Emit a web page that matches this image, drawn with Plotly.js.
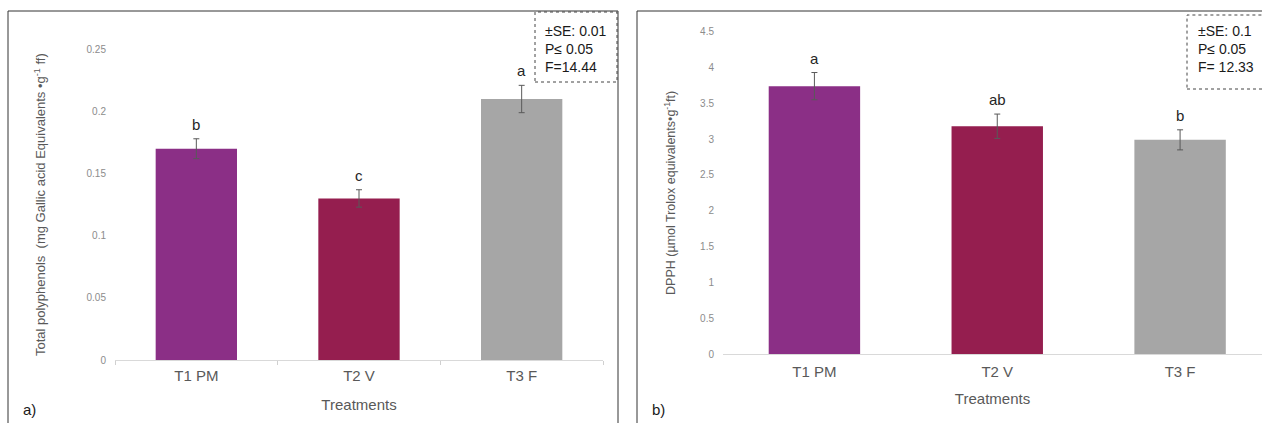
<!DOCTYPE html>
<html>
<head>
<meta charset="utf-8">
<script src="https://cdn.plot.ly/plotly-3.0.1.min.js"></script>
<style>html,body{margin:0;padding:0;background:#fff;}#chart{width:1262px;height:423px;}</style>
</head>
<body>
<div id="chart"></div>
<script>
const categories = ['T1 PM', 'T2 V', 'T3 F'];
const polyphenols = [0.17, 0.13, 0.21];
const polyphenolsSE = [0.008, 0.007, 0.011];
const polyLetters = ['b', 'c', 'a'];
const dpph = [3.74, 3.18, 2.99];
const dpphSE = [0.19, 0.17, 0.14];
const dpphLetters = ['a', 'ab', 'b'];
const barColors = ['#8B2F86', '#951E4F', '#A6A6A6'];
const ticksA = [0, 0.05, 0.1, 0.15, 0.2, 0.25];
const tickTextA = ['0', '0.05', '0.1', '0.15', '0.2', '0.25'];
const ticksB = [0, 0.5, 1, 1.5, 2, 2.5, 3, 3.5, 4, 4.5];
const tickTextB = ['0', '0.5', '1', '1.5', '2', '2.5', '3', '3.5', '4', '4.5'];
const statsA = ['±SE: 0.01', 'P≤ 0.05', 'F=14.44'];
const statsB = ['±SE: 0.1', 'P≤ 0.05', 'F= 12.33'];

const W = 1262, H = 423;
const px = v => v / W;
const py = v => (H - v) / H;

const traces = [
  {
    type: 'bar', x: categories, y: polyphenols, xaxis: 'x', yaxis: 'y',
    marker: {color: barColors}, width: 0.5,
    error_y: {type: 'data', array: polyphenolsSE, visible: true, color: '#595959', thickness: 1, width: 3},
    hoverinfo: 'x+y', showlegend: false
  },
  {
    type: 'bar', x: categories, y: dpph, xaxis: 'x2', yaxis: 'y2',
    marker: {color: barColors}, width: 0.5,
    error_y: {type: 'data', array: dpphSE, visible: true, color: '#595959', thickness: 1, width: 3},
    hoverinfo: 'x+y', showlegend: false
  }
];

const font = 'Arial, "Liberation Sans", sans-serif';
const annotations = [];
categories.forEach((c, i) => {
  annotations.push({xref: 'x', yref: 'y', x: c, y: polyphenols[i] + polyphenolsSE[i], text: polyLetters[i],
    showarrow: false, yanchor: 'bottom', yshift: 4, font: {family: font, size: 15, color: '#262626'}});
  annotations.push({xref: 'x2', yref: 'y2', x: c, y: dpph[i] + dpphSE[i], text: dpphLetters[i],
    showarrow: false, yanchor: 'bottom', yshift: 4, font: {family: font, size: 15, color: '#262626'}});
});
annotations.push({xref: 'paper', yref: 'paper', x: px(544), y: py(22), xanchor: 'left', yanchor: 'top',
  text: statsA.join('<br>'), align: 'left', showarrow: false, borderpad: 0,
  font: {family: font, size: 14, color: '#1a1a1a'}});
annotations.push({xref: 'paper', yref: 'paper', x: px(1197), y: py(22), xanchor: 'left', yanchor: 'top',
  text: statsB.join('<br>'), align: 'left', showarrow: false, borderpad: 0,
  font: {family: font, size: 14, color: '#1a1a1a'}});
annotations.push({xref: 'paper', yref: 'paper', x: px(21), y: py(409), xanchor: 'left', yanchor: 'middle',
  text: 'a)', showarrow: false, font: {family: font, size: 15, color: '#1a1a1a'}});
annotations.push({xref: 'paper', yref: 'paper', x: px(650), y: py(409), xanchor: 'left', yanchor: 'middle',
  text: 'b)', showarrow: false, font: {family: font, size: 15, color: '#1a1a1a'}});

const shapes = [
  {type: 'rect', xref: 'paper', yref: 'paper', x0: px(8), x1: px(618), y0: -0.2, y1: py(11),
    line: {color: '#333333', width: 1}},
  {type: 'rect', xref: 'paper', yref: 'paper', x0: px(637), x1: 1.1, y0: -0.2, y1: py(11),
    line: {color: '#333333', width: 1}},
  {type: 'rect', xref: 'paper', yref: 'paper', x0: px(535), x1: px(617), y0: py(82), y1: py(12),
    line: {color: '#444444', width: 1, dash: 'dot'}},
  {type: 'rect', xref: 'paper', yref: 'paper', x0: px(1187), x1: 1.1, y0: py(89), y1: py(15),
    line: {color: '#444444', width: 1, dash: 'dot'}}
];

const tickFont = {family: font, size: 10, color: '#8c8c8c'};
const catFont = {family: font, size: 15, color: '#595959'};

const layout = {
  width: W, height: H,
  margin: {l: 0, r: 0, t: 0, b: 0},
  paper_bgcolor: '#ffffff', plot_bgcolor: '#ffffff',
  showlegend: false,
  bargap: 0.5,
  xaxis: {
    domain: [px(115), px(603)], anchor: 'y', type: 'category', range: [-0.5, 2.5],
    showgrid: false, zeroline: false, showline: true, linecolor: '#d9d9d9', linewidth: 1,
    ticks: 'outside', tickson: 'boundaries', ticklen: 4, tickcolor: '#d0d0d0',
    tickfont: catFont, ticklabelstandoff: 2,
    title: {text: 'Treatments', font: catFont, standoff: 16}
  },
  yaxis: {
    domain: [py(360), py(49.3)], anchor: 'x', range: [0, 0.25],
    tickvals: ticksA, ticktext: tickTextA, showgrid: false, zeroline: false, showline: false,
    ticks: 'outside', ticklen: 6, tickcolor: 'rgba(0,0,0,0)', tickfont: tickFont,
    title: {text: 'Total polyphenols  (mg Gallic acid Equivalents •g<sup>-1</sup> ff)',
      font: {family: font, size: 13, color: '#595959'}, standoff: 37}
  },
  xaxis2: {
    domain: [px(723), 1], anchor: 'y2', type: 'category', range: [-0.5, 2.448],
    showgrid: false, zeroline: false, showline: true, linecolor: '#d9d9d9', linewidth: 1,
    ticks: 'outside', ticklen: 4, tickcolor: 'rgba(0,0,0,0)',
    tickfont: catFont, ticklabelstandoff: 0,
    title: {text: 'Treatments', font: catFont, standoff: 14}
  },
  yaxis2: {
    domain: [py(354), py(31.7)], anchor: 'x2', range: [0, 4.5],
    tickvals: ticksB, ticktext: tickTextB, showgrid: false, zeroline: false, showline: false,
    ticks: 'outside', ticklen: 6, tickcolor: 'rgba(0,0,0,0)', tickfont: tickFont,
    title: {text: 'DPPH (µmol Trolox equivalents•g<sup>-1</sup>ft)',
      font: {family: font, size: 12.5, color: '#595959'}, standoff: 21}
  },
  annotations: annotations,
  shapes: shapes
};

Plotly.newPlot('chart', traces, layout, {displayModeBar: false, staticPlot: true});
</script>
</body>
</html>
